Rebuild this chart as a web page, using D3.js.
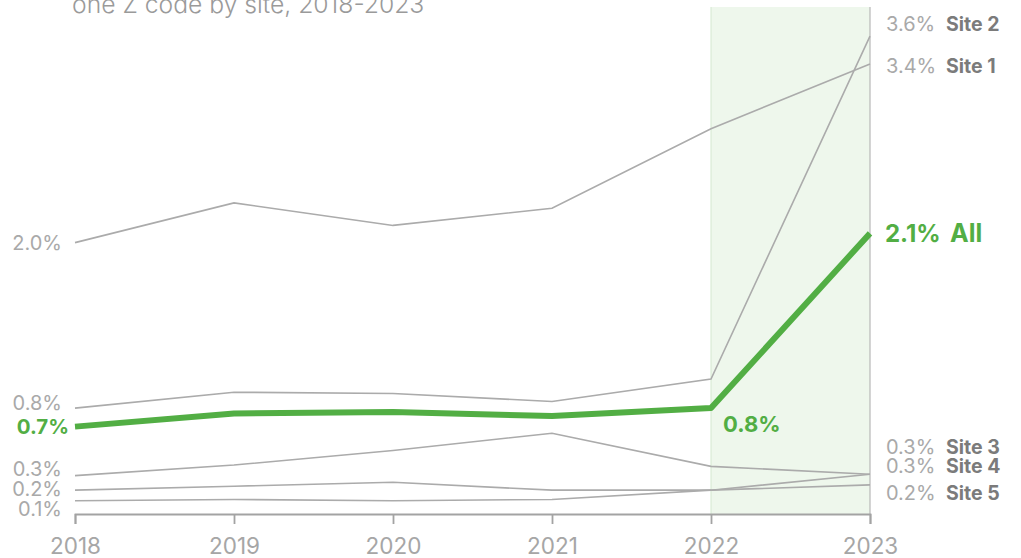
<!DOCTYPE html>
<html>
<head>
<meta charset="utf-8">
<script src="https://cdn.jsdelivr.net/npm/d3@7"></script>
<style>
  html, body { margin: 0; padding: 0; background: #fff; }
  svg { display: block; font-family: Inter, "Noto Sans", sans-serif; }
</style>
</head>
<body>
<div id="chart"></div>
<script>
// data (percent)
var years = [2018, 2019, 2020, 2021, 2022, 2023];
var site1 = [2.05, 2.35, 2.18, 2.31, 2.91, 3.40];
var site2 = [0.80, 0.92, 0.91, 0.85, 1.02, 3.61];
var site3 = [0.29, 0.37, 0.48, 0.61, 0.36, 0.30];
var site4 = [0.18, 0.21, 0.24, 0.18, 0.18, 0.30];
var site5 = [0.10, 0.11, 0.10, 0.11, 0.18, 0.22];
var all   = [0.66, 0.76, 0.77, 0.74, 0.80, 2.12];
var highlightYear = 2022;
var subtitle = "one Z code by site, 2018-2023";

var series = [
  {name: "Site 1", values: site1},
  {name: "Site 2", values: site2},
  {name: "Site 3", values: site3},
  {name: "Site 4", values: site4},
  {name: "Site 5", values: site5}
];

// label nudges so the end labels don't collide (px)
var leftNudge  = {"Site 1": 0, "Site 2": -5.5, "Site 3": -7, "Site 4": -1, "Site 5": 8, "All": 0};
var rightNudge = {"Site 1": 2, "Site 2": -12.5, "Site 3": -27, "Site 4": -8, "Site 5": 8, "All": 0};

var W = 1021, H = 558,
    green = "#52ae44",
    grey = "#ababab",
    labelGrey = "#a9a9a9",
    nameGrey = "#7b7b7b";

var svg = d3.select("#chart").append("svg").attr("width", W).attr("height", H);

var x = d3.scalePoint().domain(years).range([75, 870]);
var y = d3.scaleLinear().domain([0, 3.83]).range([514, 7]);

var fmt = function (v) { return d3.format(".1f")(v) + "%"; };

// highlighted year band
svg.append("rect")
  .attr("x", x(highlightYear))
  .attr("y", y.range()[1])
  .attr("width", x(years[years.length - 1]) - x(highlightYear))
  .attr("height", y.range()[0] - y.range()[1])
  .attr("fill", "#eef7ec");
svg.append("line")
  .attr("x1", x(highlightYear)).attr("x2", x(highlightYear))
  .attr("y1", y.range()[1]).attr("y2", y.range()[0])
  .attr("stroke", "#d3e8cf").attr("stroke-width", 1);
svg.append("line")
  .attr("x1", x(2023)).attr("x2", x(2023))
  .attr("y1", y.range()[1]).attr("y2", y.range()[0])
  .attr("stroke", "#b8b8b8").attr("stroke-width", 1.2);

// subtitle (top of the title block is cut off)
svg.append("text")
  .attr("x", 72).attr("y", 13)
  .attr("fill", "#9a9a9a")
  .attr("font-size", 24.7)
  .attr("font-weight", 300)
  .text(subtitle);

// x axis
var xAxis = d3.axisBottom(x).tickSize(10).tickPadding(14);
var gx = svg.append("g").attr("transform", "translate(0," + y(0) + ")").call(xAxis);
gx.select(".domain").attr("stroke", "#a3a3a3").attr("stroke-width", 1.8);
gx.selectAll(".tick line").attr("stroke", "#a3a3a3").attr("stroke-width", 1.8);
gx.selectAll(".tick text")
  .attr("fill", "#a6a6a6")
  .attr("font-size", 22.5)
  .attr("font-family", "Inter, sans-serif");

var line = d3.line()
  .x(function (d, i) { return x(years[i]); })
  .y(function (d) { return y(d); });

// site lines
svg.append("g").selectAll("path")
  .data(series)
  .join("path")
  .attr("d", function (d) { return line(d.values); })
  .attr("fill", "none")
  .attr("stroke", grey)
  .attr("stroke-width", 1.6);

// all sites line
svg.append("path")
  .attr("d", line(all))
  .attr("fill", "none")
  .attr("stroke", green)
  .attr("stroke-width", 6)
  .attr("stroke-linejoin", "round");

// left labels
var first = series.map(function (s) { return {name: s.name, v: s.values[0]}; });
svg.append("g").selectAll("text")
  .data(first)
  .join("text")
  .attr("x", 62)
  .attr("y", function (d) { return y(d.v) + leftNudge[d.name]; })
  .attr("text-anchor", "end")
  .attr("dominant-baseline", "central")
  .attr("fill", labelGrey)
  .attr("font-size", 20)
  .text(function (d) { return fmt(d.v); });

svg.append("text")
  .attr("x", 69)
  .attr("y", y(all[0]) + leftNudge["All"])
  .attr("text-anchor", "end")
  .attr("dominant-baseline", "central")
  .attr("fill", green)
  .attr("font-size", 20.5)
  .attr("font-weight", 700)
  .text(fmt(all[0]));

// right labels
var last = series.map(function (s) { return {name: s.name, v: s.values[s.values.length - 1]}; });
var rl = svg.append("g").selectAll("g")
  .data(last)
  .join("g")
  .attr("transform", function (d) { return "translate(0," + (y(d.v) + rightNudge[d.name]) + ")"; });
rl.append("text")
  .attr("x", 886)
  .attr("dominant-baseline", "central")
  .attr("fill", labelGrey)
  .attr("font-size", 20)
  .text(function (d) { return fmt(d.v); });
rl.append("text")
  .attr("x", 946)
  .attr("dominant-baseline", "central")
  .attr("fill", nameGrey)
  .attr("font-size", 19.5)
  .attr("font-weight", 700)
  .text(function (d) { return d.name; });

var allEnd = svg.append("g")
  .attr("transform", "translate(0," + (y(all[all.length - 1]) + rightNudge["All"]) + ")");
allEnd.append("text")
  .attr("x", 885)
  .attr("dominant-baseline", "central")
  .attr("fill", green)
  .attr("font-size", 24)
  .attr("font-weight", 700)
  .text(fmt(all[all.length - 1]));
allEnd.append("text")
  .attr("x", 950)
  .attr("dominant-baseline", "central")
  .attr("fill", green)
  .attr("font-size", 25)
  .attr("font-weight", 700)
  .text("All");

// 2022 value of all sites
svg.append("text")
  .attr("x", x(highlightYear) + 12)
  .attr("y", y(all[years.indexOf(highlightYear)]) + 16)
  .attr("dominant-baseline", "central")
  .attr("fill", green)
  .attr("font-size", 22)
  .attr("font-weight", 700)
  .text(fmt(all[years.indexOf(highlightYear)]));
</script>
</body>
</html>
